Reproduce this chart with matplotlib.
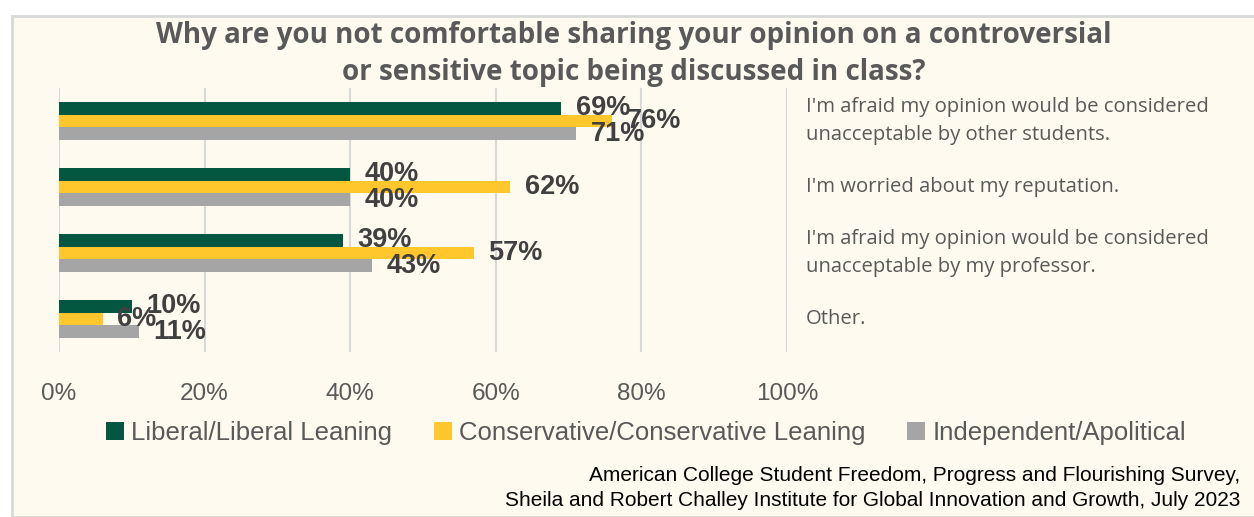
import numpy as np
import matplotlib.pyplot as plt
from matplotlib.patches import Rectangle

# survey answers, top to bottom
reasons = [
    "I'm afraid my opinion would be considered\nunacceptable by other students.",
    "I'm worried about my reputation.",
    "I'm afraid my opinion would be considered\nunacceptable by my professor.",
    "Other.",
]
groups = ["Liberal/Liberal Leaning", "Conservative/Conservative Leaning", "Independent/Apolitical"]
liberal = [69, 40, 39, 10]
conservative = [76, 62, 57, 6]
independent = [71, 40, 43, 11]
xticks = [0, 20, 40, 60, 80, 100]
colors = ["#03563F", "#FFC72C", "#A5A5A5"]

title = ("Why are you not comfortable sharing your opinion on a controversial\n"
         "or sensitive topic being discussed in class?")
source = ("American College Student Freedom, Progress and Flourishing Survey,\n"
          "Sheila and Robert Challey Institute for Global Innovation and Growth, July 2023")

W, H = 1254, 517
narrow = ["Liberation Sans", "DejaVu Sans"]
bg = "#FEFAEF"

fig = plt.figure(figsize=(W / 100, H / 100), dpi=100)
fig.patch.set_facecolor("white")

def fx(px):
    return px / W

def fy(py):
    return 1 - py / H

# cream panel with a light border
fig.patches.append(Rectangle((fx(12), 0), 1, fy(16), transform=fig.transFigure,
                             facecolor=bg, edgecolor="#D9D9D9", linewidth=2, zorder=-5))

ax = fig.add_axes([fx(59), fy(352), fx(787) - fx(59), fy(88) - fy(352)])
ax.set_facecolor("none")

series = [liberal, conservative, independent]
y = np.arange(len(reasons))
bh = 0.19
for i, (vals, c, name) in enumerate(zip(series, colors, groups)):
    ys = y + (i - 1) * bh
    ax.barh(ys, vals, height=bh, color=c, label=name, zorder=2)
    for yy, v in zip(ys, vals):
        ax.text(v + 2.0, yy, f"{v}%", ha="left", va="center", fontsize=19.5,
                fontweight="bold", color="#404040", family=narrow, zorder=3)

ax.set_xlim(0, 100)
ax.set_ylim(len(reasons) - 0.5, -0.5)
ax.set_xticks(xticks)
ax.set_xticklabels([f"{t}%" for t in xticks], fontsize=17.5, color="#595959", family=narrow)
ax.tick_params(axis="x", length=0, pad=22)
ax.set_yticks([])
ax.grid(axis="x", color="#D9D9D9", linewidth=1.5, zorder=0)
ax.set_axisbelow(True)
for s in ax.spines.values():
    s.set_visible(False)

# reason labels sit to the right of the 100% line
ytr = ax.get_yaxis_transform()
for yy, r in zip(y, reasons):
    ax.text(1.026, yy, r, transform=ytr, ha="left", va="center", fontsize=14.6,
            color="#595959", family=["Open Sans", "DejaVu Sans"], linespacing=1.55)

fig.text(fx(634), fy(54), title, ha="center", va="center", fontsize=20,
         fontweight="bold", color="#595959", family=["Open Sans", "DejaVu Sans"],
         linespacing=1.4)

leg = fig.legend(loc="center", bbox_to_anchor=(fx(646), fy(433)), ncol=3, frameon=False,
                 prop={"family": narrow, "size": 18.5}, handlelength=0.7, handleheight=0.7,
                 handletextpad=0.3, columnspacing=1.6)
for t in leg.get_texts():
    t.set_color("#595959")

fig.text(fx(1240), fy(488), source, ha="right", va="center", fontsize=15,
         color="black", family=narrow, linespacing=1.45)

fig.savefig("out.png", dpi=100, facecolor=fig.get_facecolor())
